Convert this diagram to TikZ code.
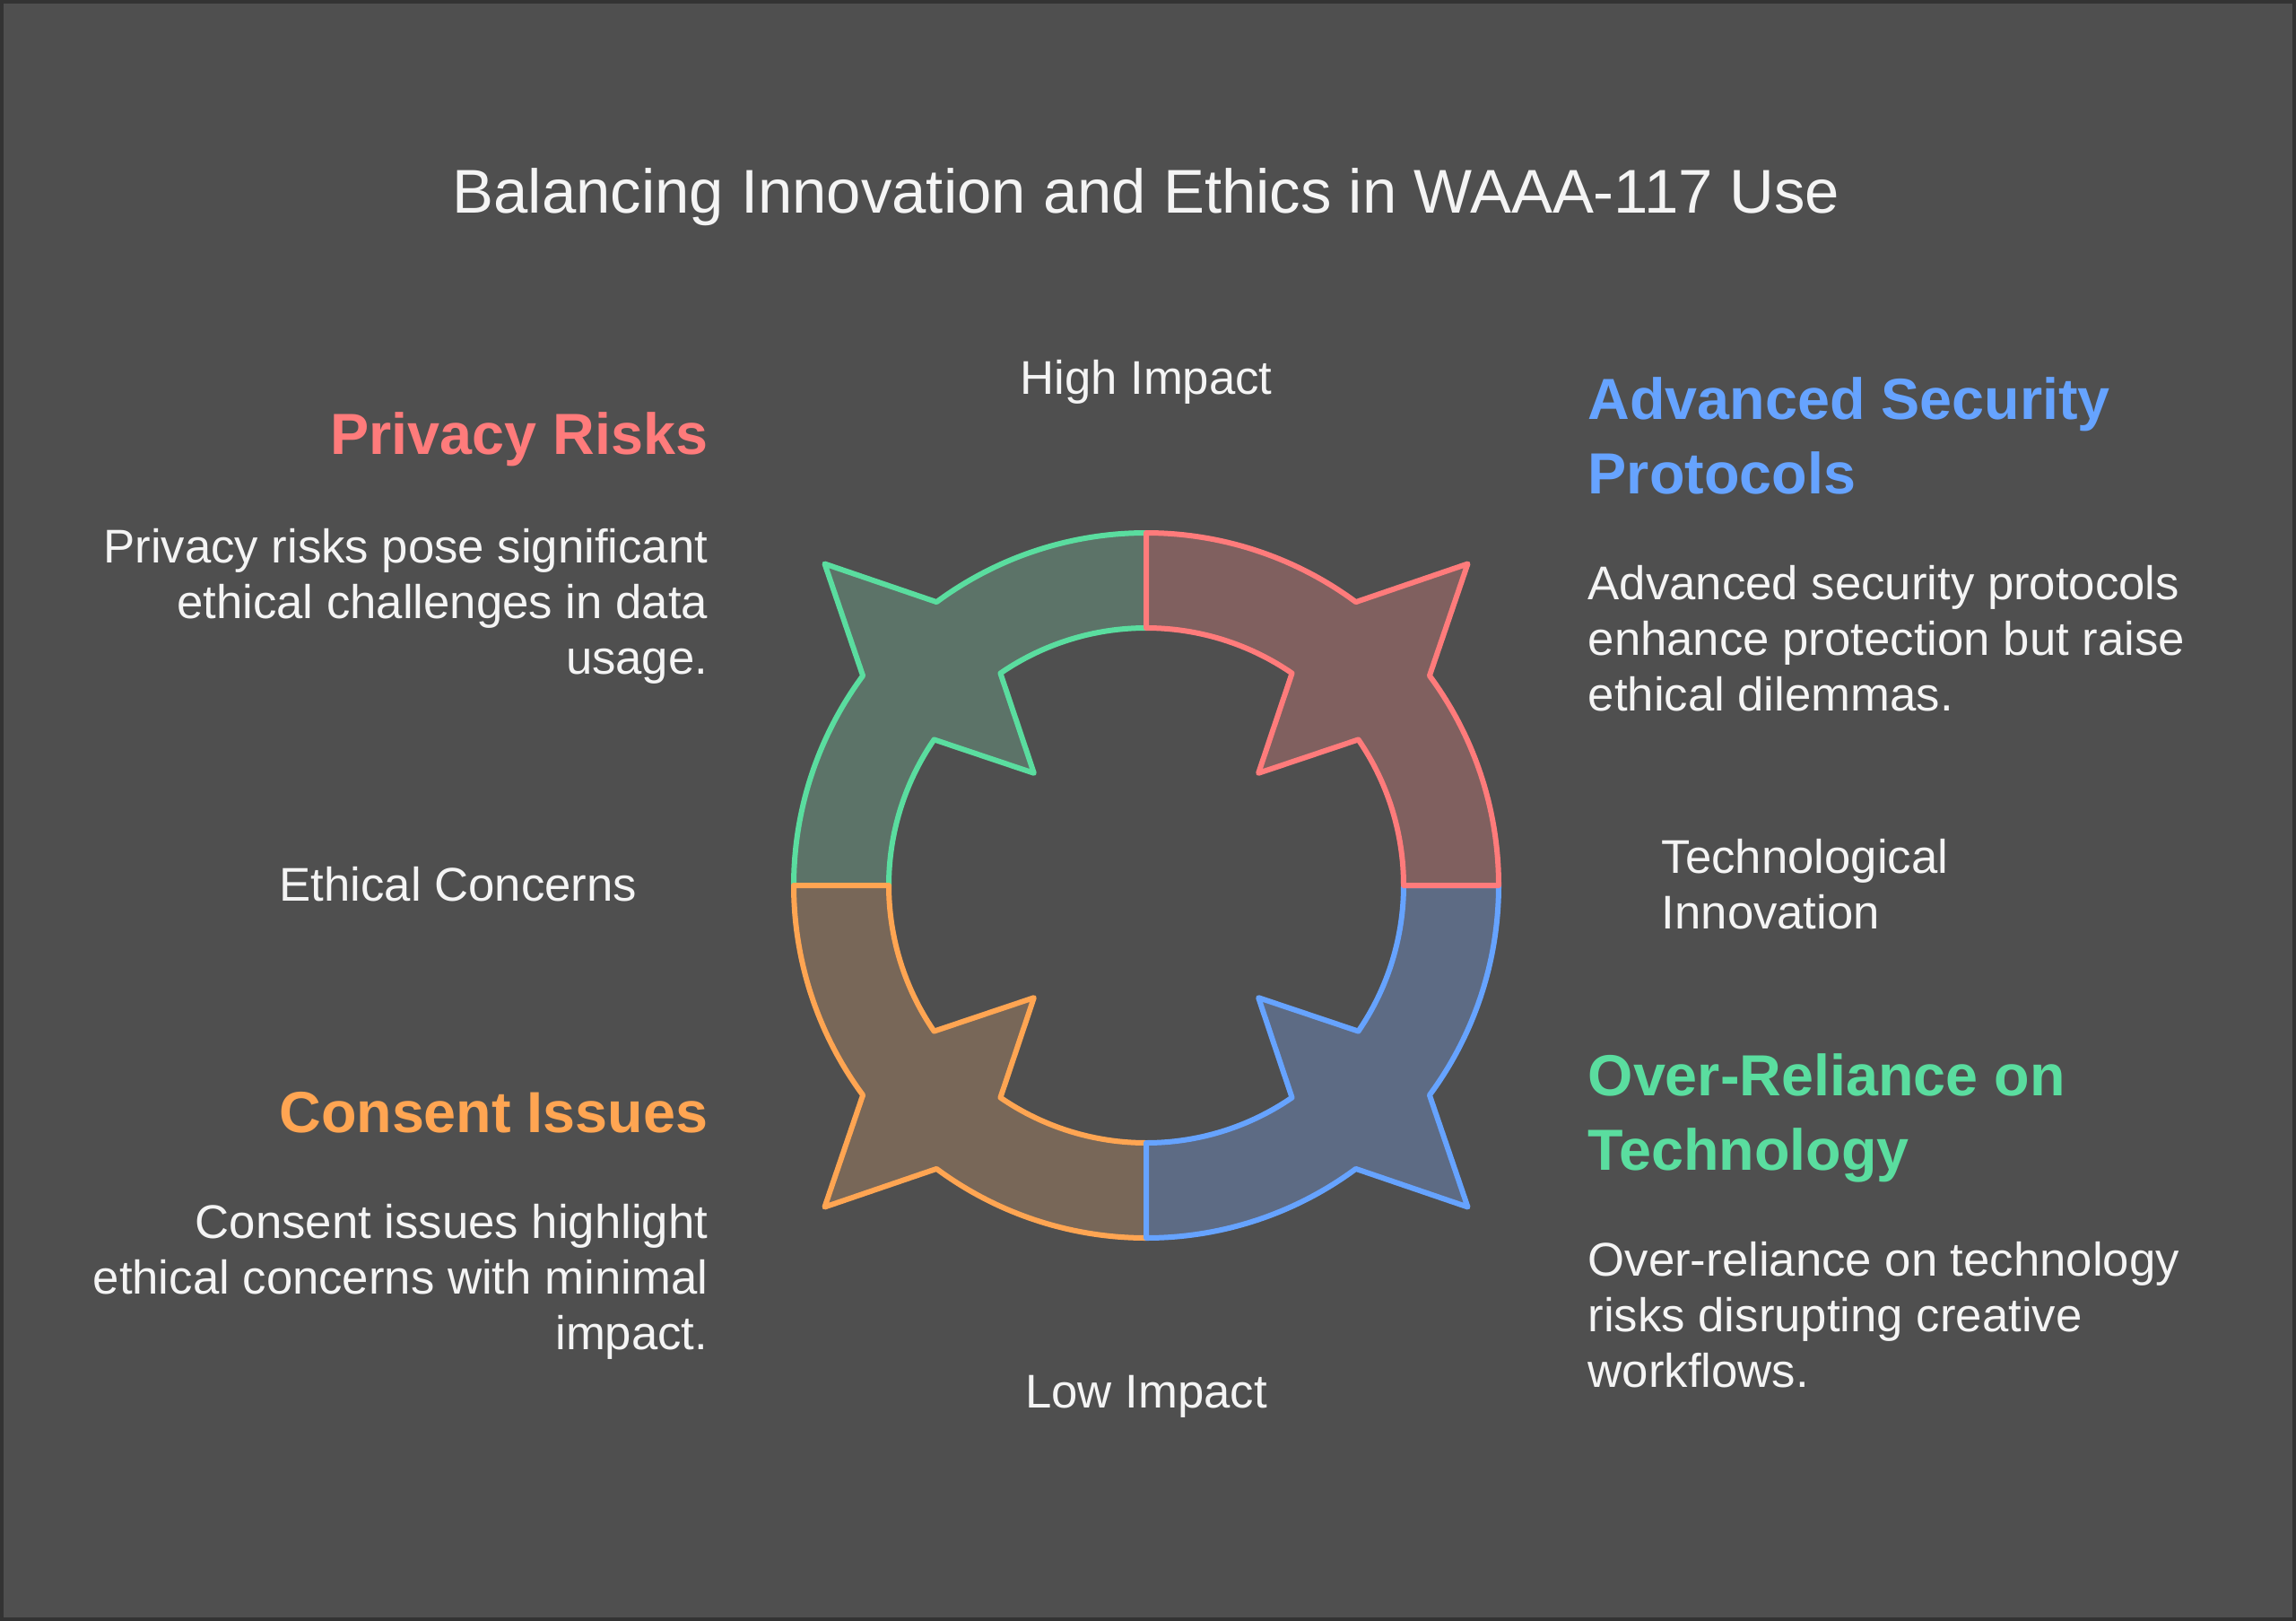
\documentclass[tikz,border=0pt]{standalone}
\usepackage{fontspec}
\setmainfont{Liberation Sans}

\definecolor{bgcol}{HTML}{4F4F4F}
\definecolor{framecol}{HTML}{333333}
\definecolor{textwhite}{HTML}{F4F4F4}
\definecolor{redline}{HTML}{FF7B7B}
\definecolor{redfill}{HTML}{80605F}
\definecolor{greenline}{HTML}{5ADD9F}
\definecolor{greenfill}{HTML}{5C7368}
\definecolor{orangeline}{HTML}{FFA552}
\definecolor{orangefill}{HTML}{786758}
\definecolor{blueline}{HTML}{66A3FF}
\definecolor{bluefill}{HTML}{5D6B84}

\begin{document}
\begin{tikzpicture}[
  txt/.style={text=textwhite, inner sep=0pt, font=\fontsize{15}{17.6}\selectfont},
  headtxt/.style={inner sep=0pt, font=\bfseries\fontsize{18.4}{23.6}\selectfont},
  titletxt/.style={text=textwhite, inner sep=0pt, font=\fontsize{19.6}{23}\selectfont},
  seg/.style={line width=0.06cm, line join=round}
]
\useasboundingbox (0,0) rectangle (25.6,-18.07);
\fill[bgcol] (0,0) rectangle (25.6,-18.07);
\draw[framecol, line width=0.04cm] (0.02,-0.02) rectangle (25.58,-18.05);

\begin{scope}[shift={(12.78,-9.87)}]
\foreach \m/\ln/\fl in {135/greenline/greenfill, 225/orangeline/orangefill,
                        315/blueline/bluefill, 45/redline/redfill}{
  \filldraw[seg, draw=\ln, fill=\fl]
    ({\m+45}:3.93) arc[start angle=\m+45, end angle=\m+8.5, radius=3.93]
    -- (\m:5.07) -- ({\m-8.5}:3.93)
    arc[start angle=\m-8.5, end angle=\m-45, radius=3.93]
    -- ({\m-45}:2.87) arc[start angle=\m-45, end angle=\m-10.5, radius=2.87]
    -- (\m:1.77) -- ({\m+10.5}:2.87)
    arc[start angle=\m+10.5, end angle=\m+45, radius=2.87] -- cycle;
}
\end{scope}

\node[titletxt, anchor=base] (title) at (12.78,-2.37) {Balancing Innovation and Ethics in WAAA-117 Use};

\node[txt, anchor=base] (high) at (12.78,-4.39) {High Impact};
\node[txt, anchor=base] (low) at (12.78,-15.69) {Low Impact};
\node[txt, anchor=base] (ethics) at (5.11,-10.04) {Ethical Concerns};
\node[txt, anchor=north west, align=left] (techno) at (18.52,-9.35) {Technological\\Innovation};

\node[headtxt, text=redline, anchor=base east] (privacy) at (7.90,-5.06) {Privacy Risks};
\node[txt, anchor=north east, align=right] (privacytext) at (7.90,-5.89)
  {Privacy risks pose significant\\ethical challenges in data\\usage.};

\node[headtxt, text=orangeline, anchor=base east] (consent) at (7.90,-12.62) {Consent Issues};
\node[txt, anchor=north east, align=right] (consenttext) at (7.90,-13.42)
  {Consent issues highlight\\ethical concerns with minimal\\impact.};

\node[headtxt, text=blueline, anchor=north west, align=left] (security) at (17.70,-4.20)
  {Advanced Security\\Protocols};
\node[txt, anchor=north west, align=left] (securitytext) at (17.70,-6.30)
  {Advanced security protocols\\enhance protection but raise\\ethical dilemmas.};

\node[headtxt, text=greenline, anchor=north west, align=left] (reliance) at (17.70,-11.74)
  {Over-Reliance on\\Technology};
\node[txt, anchor=north west, align=left] (reliancetext) at (17.70,-13.84)
  {Over-reliance on technology\\risks disrupting creative\\workflows.};

\end{tikzpicture}
\end{document}
